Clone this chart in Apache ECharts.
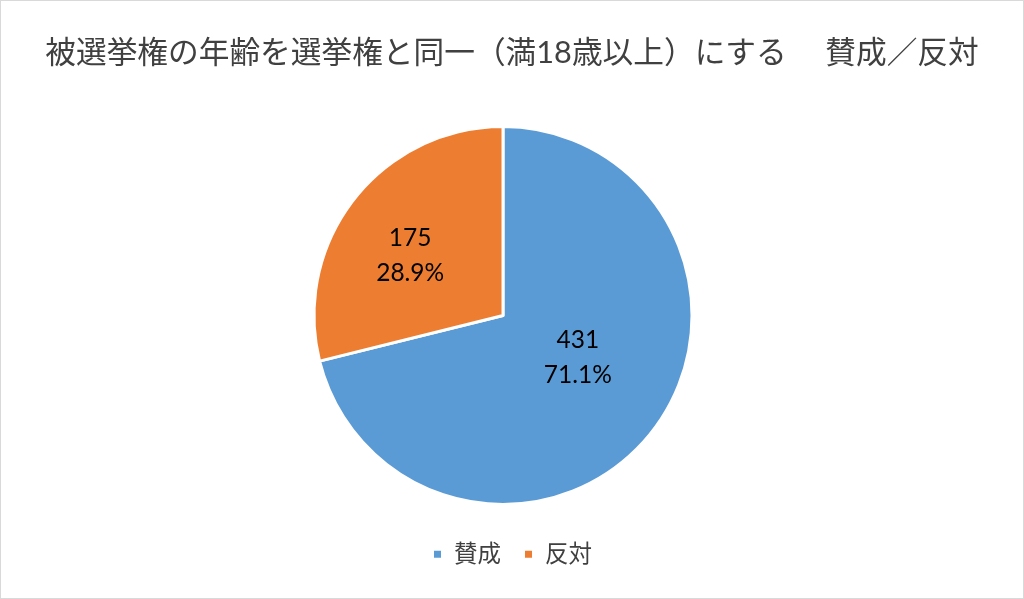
<!DOCTYPE html>
<html>
<head>
<meta charset="utf-8">
<script src="https://cdn.jsdelivr.net/npm/echarts@6/dist/echarts.min.js"></script>
<style>
html,body{margin:0;padding:0;background:#fff;}
#c{width:1024px;height:599px;box-sizing:border-box;border:1px solid #d9d9d9;}
</style>
</head>
<body>
<div id="c"></div>
<script>
const titleText = '被選挙権の年齢を選挙権と同一（満18歳以上）にする　 賛成／反対';
const categories = ['賛成', '反対'];
const values = [431, 175];
const colors = ['#5B9BD5', '#ED7D31'];
const labelOffsets = [[-2, -18], [-16, 0]];

const FONT = "Lato, 'Noto Sans CJK JP', sans-serif";
const chart = echarts.init(document.getElementById('c'), null, {renderer: 'canvas'});
const total = values.reduce((a, b) => a + b, 0);
chart.setOption({
  animation: false,
  title: {
    text: titleText,
    left: 'center',
    top: 32,
    textStyle: {fontFamily: FONT, fontSize: 30.7, fontWeight: 'normal', color: '#404040'}
  },
  legend: {
    bottom: 27,
    left: 'center',
    icon: 'rect',
    itemWidth: 9,
    itemHeight: 9,
    itemGap: 22,
    textStyle: {fontFamily: FONT, fontSize: 23.5, color: '#404040', padding: [0, 0, 0, 7]},
    data: categories
  },
  series: [{
    type: 'pie',
    center: [502, 314.5],
    radius: 189,
    startAngle: 90,
    clockwise: true,
    itemStyle: {borderColor: '#fff', borderWidth: 3},
    label: {
      position: 'inside',
      align: 'left',
      fontFamily: FONT,
      fontSize: 24.5,
      lineHeight: 35,
      color: '#000',
      formatter: p => p.value + '\n' + (p.value / total * 100).toFixed(1) + '%'
    },
    emphasis: {disabled: true},
    data: categories.map((c, i) => ({
      name: c,
      value: values[i],
      itemStyle: {color: colors[i]},
      label: {offset: labelOffsets[i]}
    }))
  }]
});
</script>
</body>
</html>
